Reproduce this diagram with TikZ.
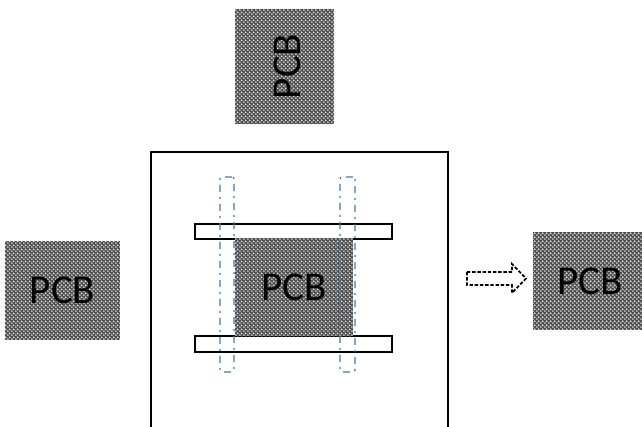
\documentclass[tikz,border=0pt]{standalone}
\usepackage{fontspec}
\setmainfont{Carlito}
\usetikzlibrary{patterns}
\pgfdeclarepatternformonly{pcbdots}{\pgfpointorigin}{\pgfqpoint{3.8pt}{3.8pt}}{\pgfqpoint{3.8pt}{3.8pt}}{%
  \pgfpathcircle{\pgfqpoint{0.95pt}{0.95pt}}{0.85pt}%
  \pgfpathcircle{\pgfqpoint{2.85pt}{2.85pt}}{0.85pt}%
  \pgfusepath{fill}}
\definecolor{pcbgray}{HTML}{505050}
\definecolor{guide}{HTML}{3F78AA}
\tikzset{
  pcbbox/.style={preaction={fill=pcbgray},pattern=pcbdots,pattern color=white,inner sep=0pt,
    font=\fontsize{41}{41}\selectfont,text=black,text height=26.5pt,text depth=0pt,align=center},
  strip/.style={draw=black,fill=white,line width=1.2pt,inner sep=0pt},
  guidebox/.style={draw=guide,line width=1.3pt,dash pattern=on 7pt off 5pt on 2pt off 5pt,rounded corners=2pt,inner sep=0pt},
  frame/.style={draw=black,line width=1.1pt},
  hollowarrow/.style={draw=black,line width=1.7pt,dash pattern=on 3.4pt off 1.8pt,fill=white}
}
\begin{document}
\begin{tikzpicture}[x=1pt,y=-1pt]
\useasboundingbox (0,0) rectangle (642,427);
\coordinate (fa) at (151,427);
\coordinate (fb) at (151,152);
\coordinate (fc) at (448,152);
\coordinate (fd) at (448,427);
\draw[frame] (fa) -- (fb) -- (fc) -- (fd);
\node[strip,minimum width=197pt,minimum height=15pt] (stripT) at (293.5,231.5) {};
\node[strip,minimum width=197pt,minimum height=16pt] (stripB) at (293.5,344) {};
\node[pcbbox,minimum width=118pt,minimum height=98pt] (pcbC) at (294,287) {PCB};
\node[guidebox,minimum width=14pt,minimum height=195pt] (guideL) at (227,274.5) {};
\node[guidebox,minimum width=15pt,minimum height=195pt] (guideR) at (347.5,274.5) {};
\node[pcbbox,minimum width=99pt,minimum height=115pt] (pcbT) at (284.5,66.5) {};
\node[rotate=90,font=\fontsize{41}{41}\selectfont,inner sep=0pt] (pcbTt) at (287,66.5) {PCB};
\node[pcbbox,minimum width=115pt,minimum height=99pt] (pcbL) at (62.5,290.5) {PCB};
\node[pcbbox,minimum width=109pt,minimum height=98pt] (pcbR) at (587.5,281) {\hspace{5pt}PCB};
\draw[hollowarrow] (467,272) -- (512,272) -- (512,264) -- (526,278.5) -- (512,293) -- (512,285) -- (467,285) -- cycle;
\end{tikzpicture}
\end{document}
